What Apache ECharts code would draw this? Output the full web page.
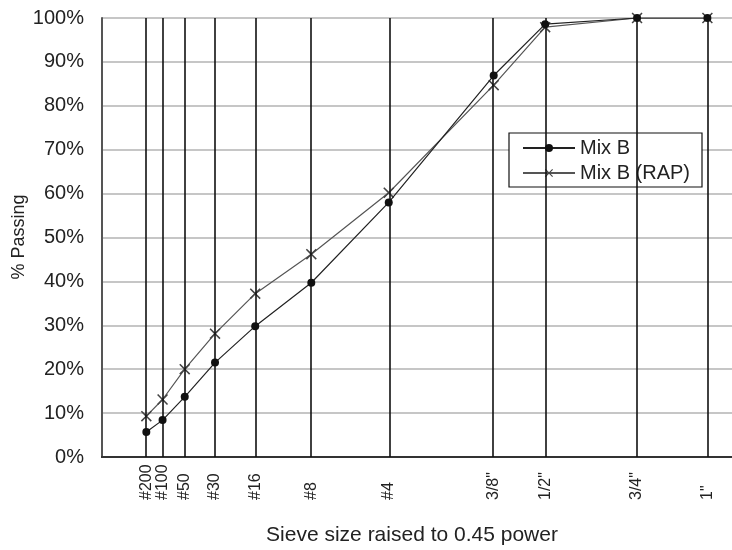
<!DOCTYPE html>
<html>
<head>
<meta charset="utf-8">
<script src="https://cdn.jsdelivr.net/npm/echarts@6/dist/echarts.min.js"></script>
<style>html,body{margin:0;padding:0;background:#fff;}#c{width:732px;height:550px;}</style>
</head>
<body>
<div id="c"></div>
<script>
// Sieve names and openings (mm); x position = size^0.45
var sieveNames = ['#200', '#100', '#50', '#30', '#16', '#8', '#4', '3/8"', '1/2"', '3/4"', '1"'];
var sieveSizes = [0.075, 0.15, 0.3, 0.6, 1.18, 2.36, 4.75, 9.5, 12.5, 19, 25];
var mixB    = [5.7, 8.4, 13.7, 21.5, 29.8, 39.7, 58.0, 86.9, 98.6, 100, 100];
var mixBRAP = [9.3, 13.1, 20.0, 28.1, 37.2, 46.2, 60.2, 84.7, 97.9, 100, 100];
var yTicks = [0, 10, 20, 30, 40, 50, 60, 70, 80, 90, 100];

var xs = sieveSizes.map(function (s) { return Math.pow(s, 0.45); });
function pairs(vals) { return vals.map(function (v, i) { return [xs[i], v]; }); }
function nameFor(v) {
  var best = 0, d = Infinity;
  xs.forEach(function (x, i) { if (Math.abs(x - v) < d) { d = Math.abs(x - v); best = i; } });
  return sieveNames[best];
}
var crossPath = 'path://M0,1 L1,0 L5,4 L9,0 L10,1 L6,5 L10,9 L9,10 L5,6 L1,10 L0,9 L4,5 Z';
var font = 'Liberation Sans, Arial, sans-serif';

var chart = echarts.init(document.getElementById('c'), null, {renderer: 'canvas'});
chart.setOption({
  animation: false,
  backgroundColor: '#fff',
  grid: {left: 102, top: 18, width: 640, height: 439, containLabel: false, outerBoundsMode: 'none'},
  graphic: [{
    type: 'text', x: 19, y: 237, rotation: Math.PI / 2,
    style: {text: '% Passing', fontSize: 18, fontFamily: font, fill: '#222',
            align: 'center', verticalAlign: 'middle'}
  }],
  xAxis: [{
    type: 'value', min: 0, max: 4.5, position: 'bottom',
    axisLine: {show: true, onZero: false, lineStyle: {color: '#222', width: 2}},
    axisTick: {show: false},
    splitLine: {show: false},
    axisLabel: {
      customValues: xs, rotate: 90, margin: 43, align: 'left', verticalAlign: 'middle',
      fontSize: 16, fontFamily: font, color: '#222',
      hideOverlap: false, showMinLabel: true, showMaxLabel: true,
      formatter: function (v) { return nameFor(v); }
    },
    name: 'Sieve size raised to 0.45 power', nameLocation: 'middle', nameGap: 68,
    nameTextStyle: {fontSize: 21, fontFamily: font, color: '#222', padding: [0, 20, 0, 0]}
  }, {
    type: 'value', min: 0, max: 4.5, position: 'top',
    axisLine: {show: true, lineStyle: {color: '#333', width: 2}},
    axisTick: {show: false}, axisLabel: {show: false}, splitLine: {show: false}
  }],
  yAxis: {
    type: 'value', min: 0, max: 100, interval: 10,
    axisLine: {show: true, lineStyle: {color: '#555', width: 2}},
    axisTick: {show: false},
    splitLine: {show: true, lineStyle: {color: '#c6c6c6', width: 2}},
    axisLabel: {formatter: '{value}%', fontSize: 20, fontFamily: font, color: '#222', margin: 18}
  },
  legend: {
    orient: 'vertical', left: 509, top: 133,
    backgroundColor: '#fff', borderColor: '#111', borderWidth: 1.2, borderRadius: 0,
    padding: [5, 12, 4, 13], itemGap: 5, itemWidth: 52, itemHeight: 10,
    textStyle: {fontSize: 20, fontFamily: font, color: '#222'},
    data: ['Mix B', 'Mix B (RAP)']
  },
  series: [{
    name: 'grid-v', type: 'line', data: [], silent: true,
    markLine: {
      symbol: ['none', 'none'], silent: true, label: {show: false},
      lineStyle: {color: '#111', width: 1.6, type: 'solid'},
      data: xs.map(function (x) { return {xAxis: x}; })
    }
  }, {
    name: 'Mix B (RAP)', type: 'line', data: pairs(mixBRAP),
    symbol: crossPath, symbolSize: 11,
    lineStyle: {color: '#555', width: 1.2},
    itemStyle: {color: '#444'}, z: 3
  }, {
    name: 'Mix B', type: 'line', data: pairs(mixB),
    symbol: 'circle', symbolSize: 8,
    lineStyle: {color: '#222', width: 1.2},
    itemStyle: {color: '#111'}, z: 4
  }]
});
</script>
</body>
</html>
